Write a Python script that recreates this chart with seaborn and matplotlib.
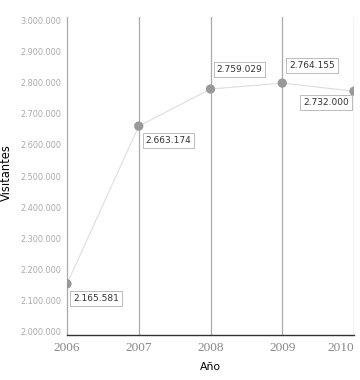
import matplotlib
matplotlib.use("Agg")
import matplotlib.pyplot as plt
import seaborn as sns
from matplotlib.ticker import FuncFormatter

years = [2006, 2007, 2008, 2009, 2010]
# positions as drawn in the chart
visitors = [2154000, 2660000, 2779000, 2798000, 2772000]
point_labels = ["2.165.581", "2.663.174", "2.759.029", "2.764.155", "2.732.000"]
y_ticks = [2000000 + 100000 * i for i in range(11)]

sns.set_style("white")
plt.rcParams['font.family'] = ['DejaVu Sans']

fig = plt.figure(figsize=(3.6, 3.8), dpi=100)
ax = fig.add_axes([67 / 360, 1 - 335 / 380, 287 / 360, 318 / 380])

sns.lineplot(x=years, y=visitors, color="#dddddd", linewidth=0.8, ax=ax)
sns.scatterplot(x=years, y=visitors, color="#999999", s=45, edgecolor="none",
                ax=ax, zorder=5)

ax.set_xlim(2006, 2010)
ax.set_ylim(1990000, 3010000)
ax.set_yticks(y_ticks)
ax.yaxis.set_major_formatter(FuncFormatter(lambda v, p: f"{int(v):,}".replace(",", ".")))
ax.set_xticks(years)
ax.set_xticklabels([str(y) for y in years])

for y in years[1:]:
    ax.axvline(y, color="#aaaaaa", linewidth=0.9, zorder=1)

for side in ["top", "right"]:
    ax.spines[side].set_visible(False)
ax.spines["left"].set_color("#aaaaaa")
ax.spines["left"].set_linewidth(0.9)
ax.spines["bottom"].set_color("#333333")
ax.spines["bottom"].set_linewidth(1.0)

ax.tick_params(axis="y", length=0, labelsize=5.9, labelcolor="#aaaaaa", pad=4)
ax.tick_params(axis="x", length=0, labelsize=9.5, labelcolor="#888888", pad=5)
for t in ax.get_xticklabels():
    t.set_family("Liberation Serif")
ax.get_xticklabels()[-1].set_ha("right")
ax.get_xticklabels()[-1].set_x(2010.02)

ax.set_xlabel("Año", fontsize=7.8, color="#000000", labelpad=6)
ax.set_ylabel("Visitantes", fontsize=8.3, color="#000000")
ax.yaxis.set_label_coords(-0.187, 0.51)

offsets = [(6, -10, "left", "top"), (7, -10, "left", "top"),
           (6, 15, "left", "bottom"), (7, 13, "left", "bottom"),
           (-5, -7, "right", "top")]
for x, y, lab, (dx, dy, ha, va) in zip(years, visitors, point_labels, offsets):
    ax.annotate(lab, (x, y), xytext=(dx, dy), textcoords="offset pixels",
                ha=ha, va=va, fontsize=6.5, color="#333333", zorder=6,
                bbox=dict(boxstyle="square,pad=0.32", fc="white", ec="#bbbbbb", lw=0.7),
                annotation_clip=False)

fig.savefig("out.png", dpi=100)
